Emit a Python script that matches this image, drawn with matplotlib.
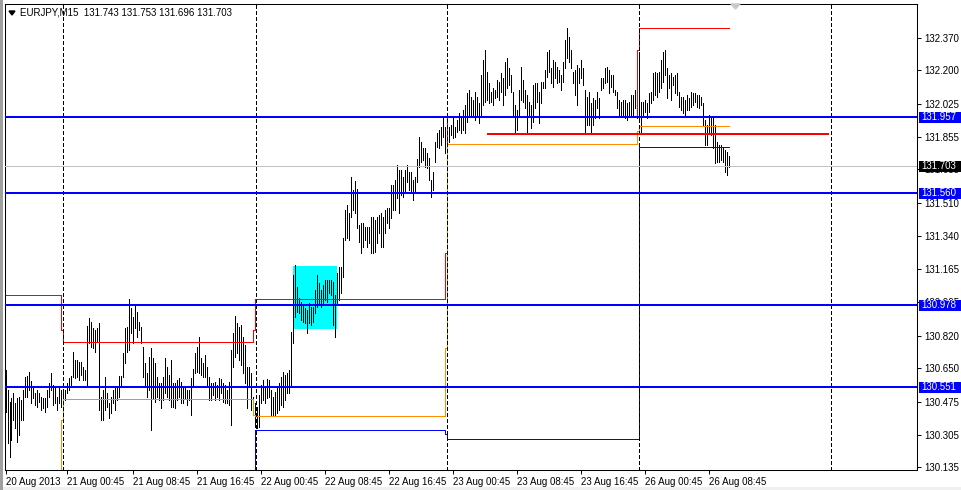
import matplotlib
matplotlib.use('Agg')
import matplotlib.pyplot as plt
from matplotlib.patches import Rectangle, Polygon
from matplotlib.transforms import blended_transform_factory

plt.rcParams['font.family'] = ['Liberation Sans', 'DejaVu Sans']
plt.rcParams['lines.scale_dashes'] = False

symbol = 'EURJPY,M15'
last_ohlc = [131.743, 131.753, 131.696, 131.703]

# M15 bars, high / low
high = [
    130.642, 130.538, 130.477, 130.495, 130.521, 130.469, 130.495, 130.503, 130.486, 130.538,
    130.607, 130.611, 130.633, 130.585, 130.555, 130.521, 130.538, 130.521, 130.503, 130.495,
    130.495, 130.538, 130.573, 130.625, 130.564, 130.547, 130.503, 130.547, 130.538, 130.538,
    130.538, 130.573, 130.599, 130.611, 130.737, 130.694, 130.694, 130.685, 130.685, 130.659,
    130.642, 130.871, 130.911, 130.893, 130.859, 130.850, 130.859, 130.885, 130.503, 130.538,
    130.604, 130.521, 130.469, 130.503, 130.538, 130.555, 130.555, 130.611, 130.611, 130.729,
    130.859, 130.864, 131.010, 130.963, 130.919, 130.980, 130.945, 130.893, 130.867, 130.763,
    130.677, 130.625, 130.711, 130.755, 130.703, 130.677, 130.607, 130.573, 130.573, 130.607,
    130.703, 130.659, 130.616, 130.694, 130.573, 130.573, 130.590, 130.599, 130.581, 130.547,
    130.547, 130.538, 130.538, 130.599, 130.647, 130.732, 130.763, 130.815, 130.703, 130.677,
    130.720, 130.659, 130.607, 130.573, 130.573, 130.581, 130.564, 130.599, 130.594, 130.573,
    130.564, 130.538, 130.581, 130.746, 130.833, 130.923, 130.885, 130.867, 130.876, 130.815,
    130.772, 130.659, 130.659, 130.625, 130.503, 130.469, 130.451, 130.512, 130.564, 130.590,
    130.555, 130.593, 130.590, 130.538, 130.503, 130.529, 130.555, 130.573, 130.607, 130.633,
    130.616, 130.625, 130.642, 130.841, 131.136, 131.188, 131.075, 131.015, 130.997, 130.980,
    130.963, 130.954, 130.989, 130.971, 130.971, 131.058, 131.136, 131.093, 131.058, 131.084,
    131.110, 131.110, 131.110, 131.110, 131.101, 131.032, 131.145, 131.179, 131.179, 131.327,
    131.474, 131.500, 131.457, 131.647, 131.578, 131.627, 131.581, 131.396, 131.405, 131.405,
    131.387, 131.387, 131.387, 131.439, 131.439, 131.422, 131.439, 131.448, 131.457, 131.439,
    131.474, 131.483, 131.483, 131.604, 131.604, 131.630, 131.708, 131.682, 131.682, 131.647,
    131.682, 131.708, 131.673, 131.673, 131.630, 131.647, 131.737, 131.855, 131.829, 131.795,
    131.795, 131.769, 131.743, 131.630, 131.673, 131.829, 131.873, 131.890, 131.907, 131.959,
    131.907, 131.951, 131.907, 131.916, 131.959, 131.907, 131.942, 131.977, 131.959, 131.994,
    132.020, 132.081, 132.098, 132.063, 132.046, 132.089, 132.063, 132.029, 132.176, 132.254,
    132.306, 132.193, 132.133, 132.089, 132.107, 132.098, 132.150, 132.141, 132.185, 132.159,
    132.245, 132.263, 132.211, 132.176, 132.089, 132.020, 131.994, 132.098, 132.219, 132.150,
    132.098, 132.072, 132.037, 132.020, 132.124, 132.133, 132.133, 132.089, 132.141, 132.141,
    132.202, 132.297, 132.306, 132.211, 132.254, 132.245, 132.219, 132.202, 132.176, 132.245,
    132.358, 132.419, 132.375, 132.306, 132.193, 132.202, 132.228, 132.211, 132.254, 132.211,
    132.098, 132.063, 132.089, 132.029, 132.055, 132.046, 132.089, 132.055, 132.159, 132.159,
    132.211, 132.219, 132.202, 132.176, 132.176, 132.098, 132.089, 132.046, 132.037, 132.046,
    132.046, 132.029, 132.037, 132.072, 132.072, 132.098, 132.159, 132.297, 132.037, 132.037,
    132.046, 132.029, 132.081, 132.089, 132.185, 132.193, 132.185, 132.193, 132.254, 132.297,
    132.306, 132.211, 132.176, 132.185, 132.167, 132.176, 132.185, 132.089, 132.063, 132.063,
    132.046, 132.072, 132.055, 132.089, 132.081, 132.081, 132.072, 132.072, 132.063, 132.029,
    131.942, 131.916, 131.968, 131.959, 131.951, 131.916, 131.829, 131.812, 131.812, 131.803,
    131.786, 131.777, 131.753,
]
low = [
    130.425, 130.261, 130.191, 130.278, 130.382, 130.339, 130.269, 130.304, 130.382, 130.382,
    130.503, 130.503, 130.538, 130.469, 130.495, 130.460, 130.451, 130.477, 130.434, 130.443,
    130.425, 130.451, 130.503, 130.538, 130.460, 130.469, 130.434, 130.469, 130.451, 130.477,
    130.486, 130.521, 130.538, 130.555, 130.607, 130.599, 130.607, 130.590, 130.616, 130.590,
    130.590, 130.555, 130.781, 130.763, 130.755, 130.737, 130.789, 130.434, 130.382, 130.382,
    130.434, 130.451, 130.391, 130.417, 130.469, 130.434, 130.486, 130.503, 130.555, 130.607,
    130.677, 130.737, 130.746, 130.833, 130.781, 130.859, 130.815, 130.850, 130.781, 130.607,
    130.555, 130.503, 130.538, 130.330, 130.495, 130.477, 130.503, 130.486, 130.443, 130.486,
    130.521, 130.503, 130.486, 130.451, 130.451, 130.443, 130.486, 130.503, 130.469, 130.469,
    130.495, 130.460, 130.486, 130.408, 130.555, 130.625, 130.633, 130.625, 130.616, 130.607,
    130.607, 130.564, 130.486, 130.486, 130.512, 130.486, 130.503, 130.486, 130.521, 130.477,
    130.469, 130.469, 130.460, 130.356, 130.659, 130.711, 130.729, 130.694, 130.668, 130.625,
    130.573, 130.443, 130.555, 130.434, 130.417, 130.347, 130.339, 130.347, 130.469, 130.486,
    130.469, 130.495, 130.503, 130.408, 130.408, 130.408, 130.417, 130.434, 130.460, 130.451,
    130.486, 130.521, 130.521, 130.564, 130.781, 130.919, 130.945, 130.937, 130.902, 130.893,
    130.885, 130.833, 130.885, 130.876, 130.893, 130.937, 130.971, 130.989, 130.971, 130.980,
    131.006, 130.997, 131.041, 131.032, 130.876, 130.815, 130.989, 131.006, 131.041, 131.127,
    131.318, 131.327, 131.318, 131.439, 131.474, 131.457, 131.379, 131.309, 131.249, 131.283,
    131.318, 131.283, 131.301, 131.249, 131.249, 131.257, 131.301, 131.353, 131.283, 131.283,
    131.353, 131.405, 131.379, 131.431, 131.474, 131.474, 131.535, 131.457, 131.552, 131.543,
    131.569, 131.621, 131.578, 131.569, 131.526, 131.561, 131.621, 131.699, 131.725, 131.734,
    131.699, 131.691, 131.630, 131.543, 131.578, 131.725, 131.803, 131.795, 131.812, 131.855,
    131.769, 131.821, 131.829, 131.864, 131.847, 131.855, 131.881, 131.890, 131.873, 131.890,
    131.873, 131.933, 131.959, 131.968, 131.968, 131.942, 131.959, 131.925, 131.968, 132.020,
    132.037, 132.046, 132.029, 132.037, 132.020, 132.055, 132.063, 132.046, 132.089, 132.020,
    132.072, 132.107, 132.124, 132.089, 131.968, 131.881, 131.890, 131.968, 132.046, 132.037,
    132.003, 131.881, 131.968, 131.899, 131.933, 132.003, 132.037, 131.925, 132.029, 132.107,
    132.107, 132.167, 132.193, 132.133, 132.115, 132.159, 132.133, 132.141, 132.098, 132.141,
    132.211, 132.263, 132.245, 132.211, 132.133, 132.072, 132.020, 132.133, 132.159, 132.124,
    131.873, 131.916, 131.916, 131.873, 131.916, 131.951, 132.003, 131.951, 132.098, 132.107,
    132.133, 132.141, 132.081, 132.115, 132.089, 132.072, 132.003, 131.959, 131.959, 131.968,
    131.951, 131.942, 131.959, 131.968, 131.968, 132.003, 131.951, 131.933, 131.881, 131.959,
    131.985, 131.951, 131.985, 132.029, 132.046, 132.072, 132.063, 132.089, 132.107, 132.141,
    132.176, 132.055, 132.107, 132.046, 132.124, 132.081, 132.072, 132.011, 131.994, 131.977,
    131.968, 131.994, 131.994, 132.011, 132.020, 132.037, 132.011, 132.003, 132.020, 131.916,
    131.812, 131.812, 131.873, 131.864, 131.795, 131.717, 131.725, 131.725, 131.734, 131.725,
    131.673, 131.656, 131.696,
]

x_ticks = [0, 31, 64, 96, 128, 160, 192, 224, 256, 288, 320, 352]
x_labels = ['20 Aug 2013', '21 Aug 00:45', '21 Aug 08:45', '21 Aug 16:45',
            '22 Aug 00:45', '22 Aug 08:45', '22 Aug 16:45', '23 Aug 00:45',
            '23 Aug 08:45', '23 Aug 16:45', '26 Aug 00:45', '26 Aug 08:45']
y_ticks = [132.370, 132.200, 132.025, 131.855, 131.685, 131.510, 131.340,
           131.165, 130.995, 130.820, 130.650, 130.475, 130.305, 130.135]

blue_levels = [131.957, 131.560, 130.978, 130.551]
bid = 131.703
red_level = 131.871
red_span = (241, 412)
zone_bars = (144, 166)
zone_prices = (130.855, 131.183)
day_breaks = [29, 125.5, 221, 317, 413]

# daily indicator step lines (bar where value starts, value)
red_x = [0, 28, 29, 124, 125, 220, 221, 316, 317, 362]
red_y = [131.032, 130.850, 130.786, 130.850, 131.010, 131.249, 131.957, 132.306, 132.419, 132.419]
orange_x = [0, 28, 29, 124, 125, 220, 221, 316, 317, 362]
orange_y = [130.00, 130.382, 130.490, 130.410, 130.403, 130.755, 131.816, 131.885, 131.909, 131.909]
navy_x = [0, 125, 220, 221, 317, 362]
navy_y = [130.00, 130.328, 130.310, 130.282, 131.800, 131.800]

W, H = 962, 490
fig = plt.figure(figsize=(W / 100, H / 100), dpi=100, facecolor='white')
L, R, T, B = 5, 917, 4, 470
ax = fig.add_axes([L / W, 1 - B / H, (R - L) / W, (B - T) / H])
ax.set_facecolor('white')
ax.set_xlim(-0.25, 455.75)
ax.set_ylim(130.122, 132.545)

n = min(len(high), len(low))
xs = list(range(n))

ax.add_patch(Rectangle((zone_bars[0], zone_prices[0]), zone_bars[1] - zone_bars[0],
                       zone_prices[1] - zone_prices[0], color='#00ffff', lw=0, zorder=1))
ax.vlines(xs, low[:n], high[:n], color='black', lw=0.6, antialiased=False, zorder=2)

for sx, sy, c in [(red_x, red_y, '#ff0000'), (orange_x, orange_y, '#ff8c00'),
                  (navy_x, navy_y, '#0000ff')]:
    ax.plot(sx, sy, drawstyle='steps-post', color=c, lw=0.72, antialiased=False, zorder=3)

for d in day_breaks:
    ax.axvline(d, color='black', lw=0.72, linestyle=(0, (2.2, 1.5)),
               antialiased=False, zorder=3.5)

ax.axhline(bid, color='#c0c0c0', lw=0.72, antialiased=False, zorder=3.2)
for lv in blue_levels:
    ax.axhline(lv, color='#0000ff', lw=1.44, antialiased=False, zorder=4)
ax.hlines(red_level, red_span[0], red_span[1], color='#ff0000', lw=1.44,
          antialiased=False, zorder=4)

ax.yaxis.tick_right()
ax.set_yticks(y_ticks)
ax.set_yticklabels(['%.3f' % v for v in y_ticks])
ax.set_xticks(x_ticks)
ax.set_xticklabels(x_labels, ha='left')
ax.tick_params(axis='y', direction='out', length=3, width=0.7, pad=2, labelsize=7, colors='black')
ax.tick_params(axis='x', direction='out', length=3, width=0.7, pad=2, labelsize=7, colors='black')
for s in ax.spines.values():
    s.set_color('black')
    s.set_linewidth(0.75)

# price labels on the right scale
tr = blended_transform_factory(ax.transAxes, ax.transData)
px_y = (132.545 - 130.122) / (B - T)
bw = 42 / (R - L)
for lv, fc in [(b, '#0000ff') for b in blue_levels] + [(bid, 'black')]:
    ax.add_patch(Rectangle((1 + 2 / (R - L), lv - 5.8 * px_y), bw, 11.2 * px_y,
                           transform=tr, facecolor=fc, edgecolor='none',
                           clip_on=False, zorder=10))
    ax.text(1 + 4 / (R - L), lv, '%.3f' % lv, transform=tr, color='white',
            fontsize=7, va='center', ha='left', clip_on=False, zorder=11)

# header
fig.text(20 / W, 1 - 12.7 / H, '%s  %s' % (symbol, ' '.join('%.3f' % v for v in last_ohlc)),
         fontsize=7, va='center', ha='left', color='black')
fig.add_artist(Polygon([[9 / W, 1 - 11 / H], [15 / W, 1 - 11 / H], [12 / W, 1 - 15 / H]],
                       closed=True, color='black', transform=fig.transFigure))
fig.add_artist(Polygon([[731 / W, 1 - 4 / H], [740 / W, 1 - 4 / H], [735.5 / W, 1 - 9 / H]],
                       closed=True, color='#c8c8c8', transform=fig.transFigure))

# window frame
fig.add_artist(Rectangle((0, 0), 1, 3.5 / H, transform=fig.transFigure, color='#f0f0f0', lw=0))
fig.add_artist(Rectangle((0, 0), 2.5 / W, 1, transform=fig.transFigure, color='#a0a0a0', lw=0))

fig.savefig('out.png', dpi=100, facecolor='white')
print(len(high), len(low))
